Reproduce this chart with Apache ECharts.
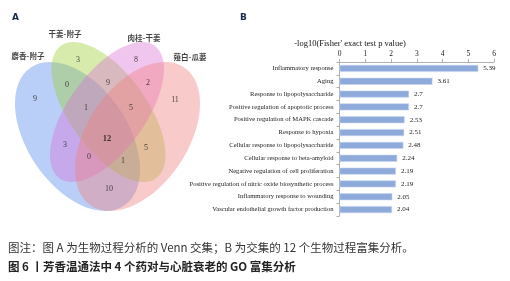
<!DOCTYPE html>
<html>
<head>
<meta charset="utf-8">
<script src="https://cdn.jsdelivr.net/npm/echarts@6/dist/echarts.min.js"></script>
<style>
  html, body { margin: 0; padding: 0; background: #fff; }
  #chart { width: 510px; height: 281px; }
</style>
</head>
<body>
<div id="chart"></div>
<script>
  // A: Venn of the four herb pairs
  const vennSets = ['麝香-附子', '干姜-附子', '肉桂-干姜', '薤白-瓜蒌'];
  // counts per region, order matches regionPos below
  const vennCounts = [9, 3, 8, 11, 0, 9, 2, 1, 5, 3, 12, 5, 0, 1, 10];

  // B: GO enrichment of the 12 shared processes
  const terms = [
    'Inflammatory response',
    'Aging',
    'Response to lipopolysaccharide',
    'Positive regulation of apoptotic process',
    'Positive regulation of MAPK cascade',
    'Response to hypoxia',
    'Cellular response to lipopolysaccharide',
    'Cellular response to beta-amyloid',
    'Negative regulation of cell proliferation',
    'Positive regulation of nitric oxide biosynthetic process',
    'Inflammatory response to wounding',
    'Vascular endothelial growth factor production'
  ];
  const logP = [5.39, 3.61, 2.7, 2.7, 2.53, 2.51, 2.48, 2.24, 2.19, 2.19, 2.05, 2.04];
  const xTicks = [0, 1, 2, 3, 4, 5, 6];

  // layout of the venn (venn grid units == px)
  const ellipses = [ // cx, cy, semi-major, semi-minor, tilt deg
    [77.5, 136.5, 83.3, 50.2, 55.9],
    [108.5, 112, 81.6, 38.6, 54.3],
    [107, 112, 81.6, 38.6, -54.3],
    [137.5, 136.5, 83.3, 50.2, -55.9]
  ];
  const ellipseColors = ['rgba(100,149,237,0.45)', 'rgba(154,205,50,0.4)', 'rgba(218,112,214,0.4)', 'rgba(240,128,128,0.42)'];
  const setLabelPos = [[28, 56], [65, 34], [144, 38], [190, 57]];
  const regionPos = [[35, 99], [78, 60], [136, 60], [175, 100], [67, 85], [108, 83], [148, 83],
    [86, 108], [131, 108], [65, 145], [107, 139], [146, 148], [89, 157], [123, 161], [109, 189]];

  const chart = echarts.init(document.getElementById('chart'));

  let option = {
    backgroundColor: '#fff',
    animation: false,
    grid: [
      {left: 0, top: 0, width: 220, height: 230},
      {left: 339.5, right: 16, top: 62, height: 154}
    ],
    xAxis: [
      {gridIndex: 0, type: 'value', min: 0, max: 220, show: false},
      {
        gridIndex: 1, type: 'value', position: 'top', min: 0, max: 6, interval: 1,
        axisLine: {show: true, lineStyle: {color: '#b0b0b0'}},
        axisTick: {show: true, length: 3, lineStyle: {color: '#b0b0b0'}},
        splitLine: {show: false},
        axisLabel: {
          margin: 4, fontFamily: 'Liberation Serif', fontSize: 7.5, color: '#222',
          formatter: v => xTicks.indexOf(v) >= 0 ? String(v) : ''
        }
      }
    ],
    yAxis: [
      {gridIndex: 0, type: 'value', min: 0, max: 230, inverse: true, show: false},
      {
        gridIndex: 1, type: 'category', data: terms, inverse: true,
        axisLine: {show: true, lineStyle: {color: '#b0b0b0'}},
        axisTick: {show: true, length: 3, lineStyle: {color: '#b0b0b0'}},
        axisLabel: {margin: 6, fontFamily: 'Liberation Serif', fontSize: 6.6, color: '#222'}
      }
    ],
    series: [
      {
        type: 'custom',
        xAxisIndex: 0, yAxisIndex: 0,
        silent: true,
        data: ellipses,
        renderItem: function (params, api) {
          const c = api.coord([api.value(0), api.value(1)]);
          const s = api.size([api.value(2), api.value(3)]);
          return {
            type: 'circle',
            shape: {cx: 0, cy: 0, r: 1},
            x: c[0], y: c[1],
            scaleX: s[0], scaleY: s[1],
            rotation: -api.value(4) * Math.PI / 180,
            style: {fill: ellipseColors[params.dataIndex]}
          };
        }
      },
      {
        type: 'scatter',
        xAxisIndex: 0, yAxisIndex: 0,
        symbolSize: 0,
        silent: true,
        data: regionPos.map((p, i) => ({value: [p[0], p[1], vennCounts[i]]})),
        label: {
          show: true, position: 'inside',
          fontFamily: 'Liberation Serif', fontSize: 8, color: '#222',
          formatter: p => p.value[2] === 12 ? '{b|12}' : p.value[2],
          rich: {b: {fontFamily: 'Liberation Serif', fontSize: 8.5, fontWeight: 'bold', color: '#111'}}
        },
        labelLayout: {hideOverlap: false}
      },
      {
        type: 'scatter',
        xAxisIndex: 0, yAxisIndex: 0,
        symbolSize: 0,
        silent: true,
        data: setLabelPos.map((p, i) => ({value: [p[0], p[1]], name: vennSets[i]})),
        label: {
          show: true, position: 'inside',
          fontFamily: 'Noto Sans CJK SC', fontWeight: 'bold', fontSize: 7.5, color: '#111',
          formatter: p => p.name
        }
      },
      {
        name: '-log10 p',
        type: 'bar',
        xAxisIndex: 1, yAxisIndex: 1,
        data: logP,
        barWidth: 7,
        itemStyle: {color: '#8eaadb', borderColor: '#c6d4ee', borderWidth: 0.6},
        label: {
          show: true, position: 'right', distance: 5,
          fontFamily: 'Liberation Serif', fontSize: 7, color: '#222'
        }
      }
    ],
    graphic: [
      {type: 'text', left: 12, top: 13, style: {text: 'A', font: 'bold 9px "DejaVu Sans"', fill: '#1a2a4a'}},
      {type: 'text', left: 240, top: 13, style: {text: 'B', font: 'bold 9px "DejaVu Sans"', fill: '#1a2a4a'}},
      {
        type: 'text', x: 350, y: 44,
        style: {text: "-log10(Fisher' exact test p value)", font: '8.5px "Liberation Serif"', fill: '#111', align: 'center', verticalAlign: 'middle'}
      },
      {
        type: 'text', x: 8, y: 248,
        style: {text: '图注：图 A 为生物过程分析的 Venn 交集；B 为交集的 12 个生物过程富集分析。', font: '11.5px "Noto Sans CJK SC"', fill: '#333', verticalAlign: 'middle'}
      },
      {
        type: 'text', x: 8, y: 267,
        style: {text: '图 6 丨芳香温通法中 4 个药对与心脏衰老的 GO 富集分析', font: 'bold 11.5px "Noto Sans CJK SC"', fill: '#222', verticalAlign: 'middle'}
      }
    ]
  };
  chart.setOption(option);
</script>
</body>
</html>
